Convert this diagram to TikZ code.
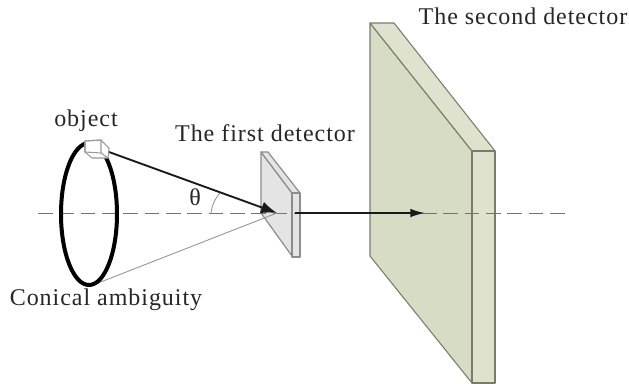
\documentclass[tikz,border=0pt]{standalone}
\usepackage{fontspec}
\setmainfont[LetterSpace=4]{Liberation Serif}
\usepackage{tikz}
\usetikzlibrary{arrows.meta,calc,positioning}
\definecolor{plategreen}{RGB}{215,221,196}
\definecolor{platepale}{RGB}{223,226,207}
\definecolor{plateedge}{RGB}{120,124,105}
\definecolor{firstgray}{RGB}{228,228,228}
\tikzset{
  label text/.style={font=\fontsize{18}{20}\selectfont,text=black!85,inner sep=0pt},
  plate/.style={draw=plateedge,line width=0.8pt,line join=round},
  first plate/.style={draw=black!45,line width=0.9pt,fill=firstgray,line join=round},
  axis line/.style={draw=black!55,dash pattern=on 11pt off 5pt,line width=0.6pt},
  ray/.style={-{Latex[length=11pt,width=6.5pt]},line width=1.4pt,black!90},
  cone ray/.style={-{Latex[length=12pt,width=9pt]},line width=1.4pt,black!90},
}
\begin{document}
\begin{tikzpicture}[x=0.75pt,y=-0.75pt]
  \useasboundingbox (0,0) rectangle (629,383);
  % second detector
  \fill[plategreen,plate] (370,23) -- (472,151) -- (472,383) -- (370,256) -- cycle;
  \fill[platepale,plate] (370,23) -- (394,23) -- (495,151) -- (472,151) -- cycle;
  \fill[platepale,plate] (472,151) -- (495,151) -- (495,383) -- (472,383) -- cycle;
  % first detector
  \path[first plate] (261,152) -- (292,193) -- (292,256) -- (261,213) -- cycle;
  \path[first plate] (261,152) -- (268,152) -- (300,193) -- (292,193) -- cycle;
  \path[first plate] (292,193) -- (300,193) -- (300,257) -- (292,257) -- cycle;
  % axis
  \coordinate (axisL) at (38,213);
  \coordinate (axisR) at (566,213);
  \path[axis line] (axisL) -- (axisR);
  % cone
  \coordinate (apex) at (277,213);
  \coordinate (ringB) at (93,285);
  \coordinate (objR) at (109,152);
  \draw[black!40,line width=0.7pt] (ringB) -- (apex);
  \draw[cone ray] (objR) -- (apex);
  \draw[ray] (295,213) -- (425,213);
  \draw[line width=3pt] (89,214) ellipse (28 and 71);
  % angle
  \draw[line width=0.6pt,black!45] (211,213) to[bend left=16] (220,193);
  % object
  \fill[white,draw=black!40,line width=0.8pt,line join=round]
    (85,141) -- (101,140) -- (109,148) -- (108,158) -- (92,158) -- (85,152) -- cycle;
  \draw[black!40,line width=0.8pt] (85,141) -- (101,140) -- (101,153) -- (85,152) -- cycle (101,153) -- (108,158);
  % labels
  \node[label text] (objectlabel) at (86,121) {object};
  \node[label text] (theta) at (195,197) {θ};
  \node[label text] (firstlabel) at (265,133) {The first detector};
  \node[label text] (secondlabel) at (523,16) {The second detector};
  \node[label text] (ambiguity) at (106,300) {Conical ambiguity};
\end{tikzpicture}
\end{document}
